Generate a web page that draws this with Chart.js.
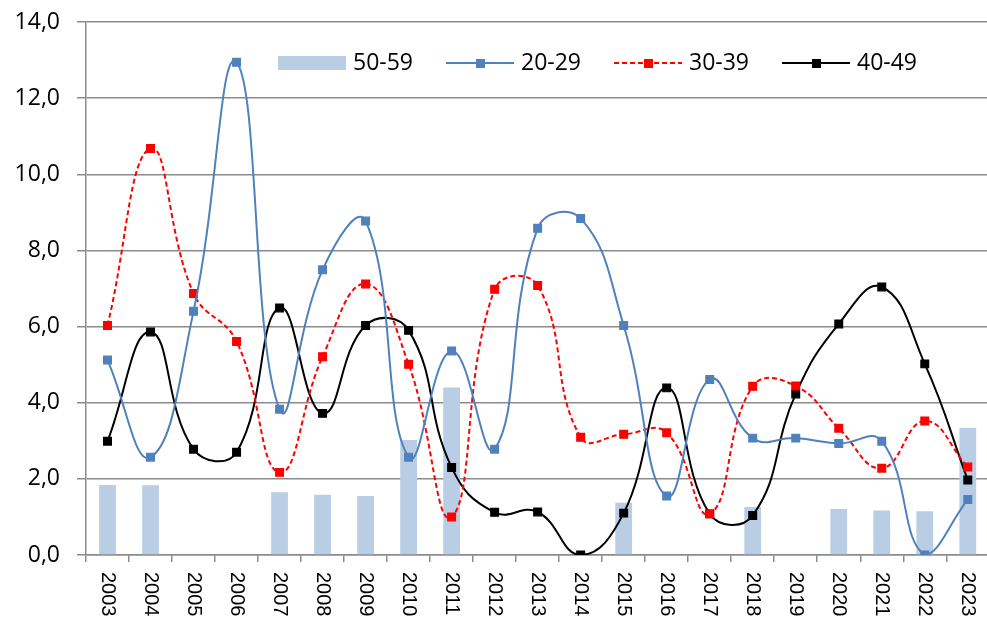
<!DOCTYPE html>
<html>
<head>
<meta charset="utf-8">
<script src="https://cdn.jsdelivr.net/npm/chart.js@4.4.1/dist/chart.umd.min.js"></script>
<style>
  html, body { margin: 0; padding: 0; background: #fff; overflow: hidden; }
  canvas { display: block; }
</style>
</head>
<body>
<canvas id="chart" width="996" height="619"></canvas>
<script>
const years = ['2003','2004','2005','2006','2007','2008','2009','2010','2011','2012','2013',
               '2014','2015','2016','2017','2018','2019','2020','2021','2022','2023'];

const age50 = [1.84, 1.83, null, null, 1.65, 1.58, 1.55, 3.02, 4.40, null, null,
               null, 1.37, null, null, 1.26, null, 1.21, 1.17, 1.15, 3.34];
const age20 = [5.12, 2.57, 6.40, 12.94, 3.83, 7.49, 8.77, 2.57, 5.36, 2.78, 8.58,
               8.84, 6.03, 1.55, 4.61, 3.07, 3.07, 2.93, 2.99, 0.0, 1.46];
const age30 = [6.03, 10.68, 6.87, 5.61, 2.17, 5.21, 7.12, 5.01, 1.0, 6.98, 7.08,
               3.09, 3.17, 3.21, 1.08, 4.43, 4.44, 3.33, 2.28, 3.52, 2.31];
const age40 = [2.99, 5.86, 2.78, 2.70, 6.49, 3.72, 6.03, 5.90, 2.30, 1.12, 1.13,
               0.0, 1.10, 4.39, 1.08, 1.04, 4.23, 6.07, 7.04, 5.02, 1.97];

const yTicks = [0, 2, 4, 6, 8, 10, 12, 14];

const gridColor = '#8c8c8c';
const fmt = v => v.toFixed(1).replace('.', ',');

// x labels read top-to-bottom, so draw them ourselves at the scale's tick positions
const xLabels = {
  id: 'xLabels',
  afterDraw(chart) {
    const ctx = chart.ctx;
    const xs = chart.scales.x;
    ctx.save();
    ctx.font = '20px "Liberation Sans", Arial, sans-serif';
    ctx.fillStyle = '#000';
    ctx.textAlign = 'left';
    ctx.textBaseline = 'middle';
    years.forEach((y, i) => {
      ctx.save();
      ctx.translate(xs.getPixelForValue(i), chart.chartArea.bottom + 17);
      ctx.rotate(Math.PI / 2);
      ctx.fillText(y, 0, 0);
      ctx.restore();
    });
    ctx.restore();
  }
};

// legend sits inside the plot, in one row
const innerLegend = {
  id: 'innerLegend',
  afterDraw(chart) {
    const ctx = chart.ctx;
    let x = 278;
    const cy = 63;
    ctx.save();
    ctx.font = '23px "Open Sans", sans-serif';
    ctx.textBaseline = 'middle';
    ctx.textAlign = 'left';
    chart.data.datasets.forEach(ds => {
      if (ds.type === 'bar') {
        ctx.fillStyle = ds.backgroundColor;
        ctx.fillRect(x, cy - 7, 68, 14);
      } else {
        ctx.strokeStyle = ds.borderColor;
        ctx.lineWidth = ds.borderWidth;
        ctx.setLineDash(ds.borderDash || []);
        ctx.beginPath();
        ctx.moveTo(x, cy);
        ctx.lineTo(x + 68, cy);
        ctx.stroke();
        ctx.setLineDash([]);
        ctx.fillStyle = ds.pointBackgroundColor;
        ctx.fillRect(x + 30, cy - 4, 9, 9);
      }
      ctx.fillStyle = '#000';
      ctx.fillText(ds.label, x + 75, cy);
      x += 75 + ctx.measureText(ds.label).width + 33;
    });
    ctx.restore();
  }
};

const lineDs = (label, data, color, dash) => ({
  type: 'line',
  label: label,
  data: data,
  borderColor: color,
  backgroundColor: color,
  pointBackgroundColor: color,
  pointBorderColor: color,
  borderWidth: 2,
  borderDash: dash,
  pointStyle: 'rect',
  pointRadius: 5.5,
  pointBorderWidth: 1.2,
  tension: 0.45,
  order: 1
});

new Chart(document.getElementById('chart').getContext('2d'), {
  type: 'bar',
  data: {
    labels: years,
    datasets: [
      {
        type: 'bar',
        label: '50-59',
        data: age50,
        backgroundColor: '#b9cde5',
        categoryPercentage: 1,
        barPercentage: 0.39,
        order: 10
      },
      lineDs('20-29', age20, '#4f81bd', []),
      lineDs('30-39', age30, '#ff0000', [5, 3]),
      lineDs('40-49', age40, '#000000', [])
    ]
  },
  options: {
    responsive: false,
    animation: false,
    layout: { padding: { top: 22, left: 0, right: 0, bottom: 0 } },
    plugins: {
      legend: { display: false },
      tooltip: { enabled: false }
    },
    scales: {
      x: {
        offset: true,
        grid: {
          offset: true,
          drawOnChartArea: false,
          drawTicks: true,
          tickLength: 7,
          color: gridColor,
          lineWidth: 1.5
        },
        border: { display: true, color: gridColor, width: 1.5 },
        ticks: { display: false },
        afterFit(scale) { scale.height = 64; }
      },
      y: {
        min: 0,
        max: 14,
        afterBuildTicks(scale) { scale.ticks = yTicks.map(v => ({ value: v })); },
        grid: { color: gridColor, lineWidth: 1.5, tickLength: 9 },
        border: { display: true, color: gridColor, width: 1.5 },
        ticks: {
          padding: 17,
          color: '#000',
          font: { family: '"Open Sans", sans-serif', size: 23 },
          callback: v => fmt(v)
        },
        afterFit(scale) {
          scale.width = 86;
          scale.paddingTop = 0;
          scale.paddingBottom = 0;
        }
      }
    }
  },
  plugins: [xLabels, innerLegend]
});
</script>
</body>
</html>
